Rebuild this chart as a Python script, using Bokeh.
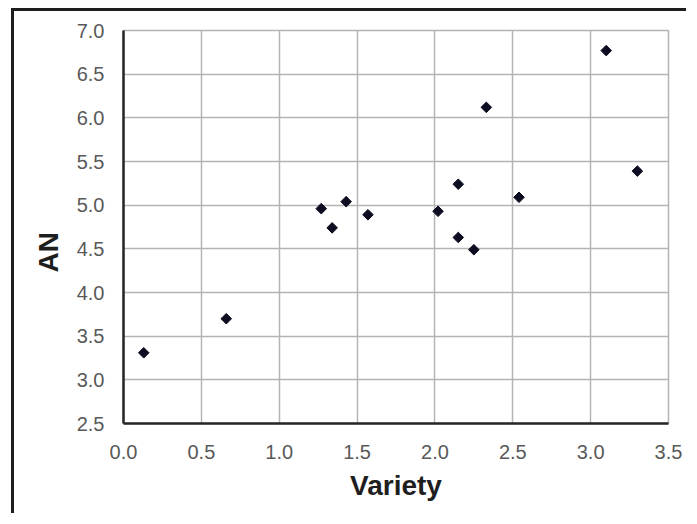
import math
from bokeh.plotting import figure
from bokeh.models import Range1d, FixedTicker, PrintfTickFormatter, Title
from bokeh.embed import file_html
from bokeh.resources import INLINE

variety = [0.13, 0.66, 1.27, 1.34, 1.43, 1.57, 2.02, 2.15, 2.15, 2.25, 2.33, 2.54, 3.10, 3.30]
an = [3.31, 3.70, 4.96, 4.74, 5.04, 4.89, 4.93, 5.24, 4.63, 4.49, 6.12, 5.09, 6.77, 5.39]
x_ticks = [0.0, 0.5, 1.0, 1.5, 2.0, 2.5, 3.0, 3.5]
y_ticks = [2.5, 3.0, 3.5, 4.0, 4.5, 5.0, 5.5, 6.0, 6.5, 7.0]

p = figure(width=675, height=505, x_range=Range1d(0, 3.5), y_range=Range1d(2.5, 7.0),
           output_backend="svg", toolbar_location=None,
           min_border_left=109, min_border_right=21, min_border_top=19, min_border_bottom=93)
p.styles = {"border-left": "3px solid #1e1e1e", "border-top": "3px solid #1e1e1e",
            "margin-left": "11px", "margin-top": "8px"}

p.background_fill_color = "white"
p.border_fill_color = "white"
p.outline_line_color = "#b4b4b4"
p.outline_line_width = 1.5

for ax in (p.xaxis[0], p.yaxis[0]):
    ax.major_tick_in = 0
    ax.major_tick_out = 0
    ax.minor_tick_in = 0
    ax.minor_tick_out = 0
    ax.axis_line_color = "#262626"
    ax.axis_line_width = 2.5
    ax.major_label_text_font = "Liberation Sans"
    ax.major_label_text_font_size = "20px"
    ax.major_label_text_color = "#595959"
    ax.formatter = PrintfTickFormatter(format="%.1f")

p.xaxis.ticker = FixedTicker(ticks=x_ticks)
p.yaxis.ticker = FixedTicker(ticks=y_ticks)
p.xaxis.major_label_standoff = 21
p.yaxis.major_label_standoff = 19

p.xaxis.axis_label = "Variety"
p.xaxis.axis_label_text_font = "Liberation Sans"
p.xaxis.axis_label_text_font_size = "28px"
p.xaxis.axis_label_text_font_style = "bold"
p.xaxis.axis_label_text_color = "#1e1e1e"
p.xaxis.axis_label_standoff = 8

ytitle = Title(text="AN", align="left", offset=151, standoff=20, text_font="Liberation Sans",
               text_font_size="28px", text_font_style="bold", text_color="#1e1e1e")
p.add_layout(ytitle, "left")

p.xgrid.grid_line_color = "#b4b4b4"
p.ygrid.grid_line_color = "#b4b4b4"
p.xgrid.grid_line_width = 1.5
p.ygrid.grid_line_width = 1.5

p.scatter(variety, an, marker="square", angle=math.pi / 4, size=7.5,
          fill_color="#0d0d22", line_color="#0d0d22")

open("out.html", "w").write(file_html(p, INLINE))
